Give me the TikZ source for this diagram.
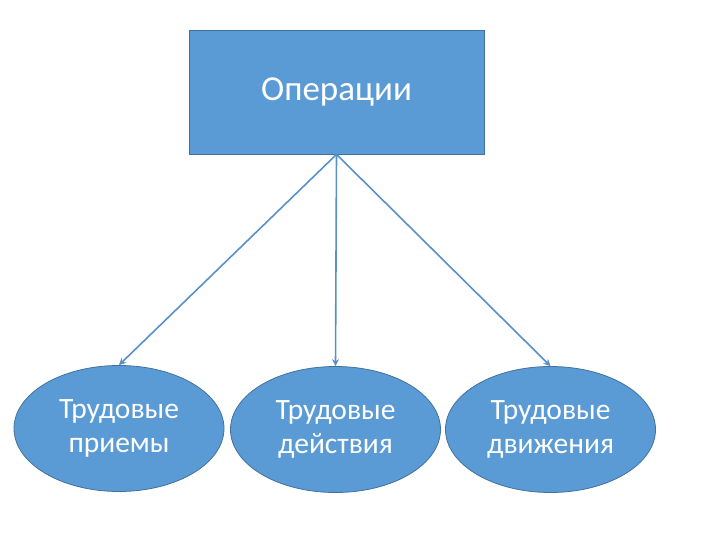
\documentclass[tikz,border=0pt]{standalone}
\usepackage{fontspec}
\setmainfont{Carlito}
\usetikzlibrary{shapes.geometric,arrows.meta}
\definecolor{boxfill}{HTML}{5B9BD5}
\definecolor{boxline}{HTML}{41719C}
\definecolor{arrowcol}{HTML}{5A8FC8}
\tikzset{
  topbox/.style={draw=boxline, fill=boxfill, line width=0.8pt, minimum width=295pt, minimum height=124pt, inner sep=0pt, text=white, font=\fontsize{35}{42}\selectfont},
  leafbox/.style={ellipse, draw=boxline, fill=boxfill, line width=0.8pt, minimum width=210pt, minimum height=126pt, inner sep=0pt, text=white, align=center, font=\fontsize{29.5}{34}\selectfont},
  conn/.style={draw=arrowcol, line width=1.6pt, -{Stealth[length=7pt,width=7pt]}}
}
\begin{document}
\begin{tikzpicture}[x=1pt,y=-1pt]
\useasboundingbox (0,0) rectangle (720,540);
\node[topbox] (op) at (336.5,92) {\raisebox{-4pt}{Операции}};
\node[leafbox] (e1) at (119,428.5) {Трудовые\\приемы};
\node[leafbox] (e2) at (335.5,429.5) {Трудовые\\действия};
\node[leafbox] (e3) at (550.5,429.5) {Трудовые\\движения};
\draw[conn] (op.south) -- (e1.north);
\draw[conn] (op.south) -- (e2.north);
\draw[conn] (op.south) -- (e3.north);
\end{tikzpicture}
\end{document}
